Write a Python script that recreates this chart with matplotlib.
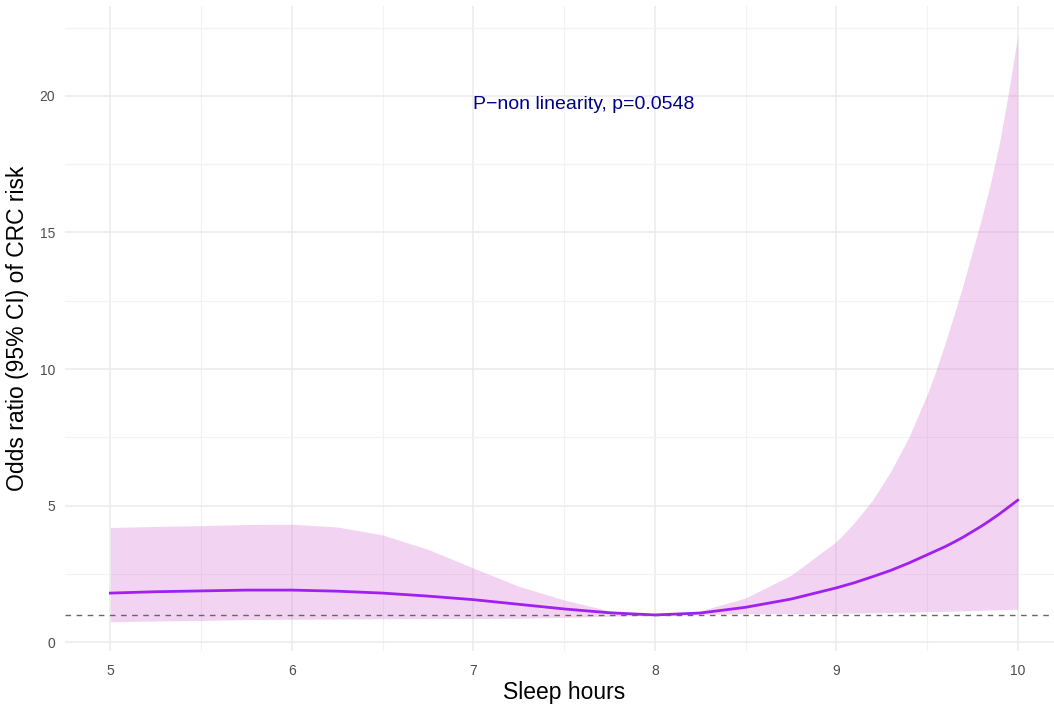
import numpy as np
import matplotlib.pyplot as plt

plt.rcParams["font.family"] = ["Liberation Sans", "DejaVu Sans"]

# values
sleep_hours = [5, 5.25, 5.5, 5.75, 6, 6.25, 6.5, 6.75, 7, 7.25, 7.5, 7.75, 8,
               8.25, 8.5, 8.75, 9, 9.1, 9.2, 9.3, 9.4, 9.5, 9.55, 9.6, 9.65, 9.7,
               9.75, 9.8, 9.85, 9.9, 9.95, 10]
odds_ratio = [1.80, 1.85, 1.88, 1.91, 1.91, 1.87, 1.80, 1.69, 1.56, 1.39, 1.22, 1.08, 1.00,
              1.07, 1.28, 1.58, 1.99, 2.18, 2.40, 2.63, 2.90, 3.20, 3.35, 3.50, 3.67, 3.85,
              4.05, 4.25, 4.47, 4.70, 4.95, 5.20]
ci_upper = [4.20, 4.24, 4.27, 4.31, 4.32, 4.22, 3.93, 3.40, 2.72, 2.05, 1.55, 1.15, 1.00,
            1.15, 1.62, 2.45, 3.68, 4.38, 5.20, 6.25, 7.50, 9.05, 9.95, 10.95, 12.0, 13.1,
            14.3, 15.5, 16.8, 18.3, 20.15, 22.2]
ci_lower = [0.75, 0.78, 0.80, 0.83, 0.84, 0.85, 0.86, 0.87, 0.87, 0.88, 0.91, 0.95, 1.00,
            1.02, 1.04, 1.05, 1.06, 1.07, 1.08, 1.09, 1.10, 1.12, 1.125, 1.13, 1.14, 1.15,
            1.16, 1.17, 1.18, 1.19, 1.20, 1.21]
x_ticks = [5, 6, 7, 8, 9, 10]
y_ticks = [0, 5, 10, 15, 20]
annotation = "P\u2212non linearity, p=0.0548"

fig = plt.figure(figsize=(10.54, 7.06), dpi=100)
ax = fig.add_axes([0.0617, 0.0775, 0.9469, 0.914])

ax.fill_between(sleep_hours, ci_lower, ci_upper, color="orchid", alpha=0.3, linewidth=0, zorder=2)
ax.plot(sleep_hours, odds_ratio, color="#a020f0", linewidth=2.0, zorder=3)
ax.axhline(1, color="#666666", linestyle=(0, (4, 4)), linewidth=1.0, zorder=4)
ax.text(7, 19.7, annotation, color="#00008b", fontsize=14, ha="left", va="center")

ax.set_xlim(4.75, 10.25)
ax.set_ylim(-0.33, 23.29)
ax.set_xticks(x_ticks)
ax.set_yticks(y_ticks)
ax.set_xticks(np.arange(5.5, 10, 1), minor=True)
ax.set_yticks(np.arange(2.5, 23, 5), minor=True)
ax.grid(which="major", color="#ebebeb", linewidth=1.1, zorder=0)
ax.grid(which="minor", color="#f2f2f2", linewidth=0.8, zorder=0)
ax.set_axisbelow(True)
for s in ax.spines.values():
    s.set_visible(False)
ax.tick_params(which="both", length=0, labelsize=10, labelcolor="#4d4d4d")
ax.tick_params(axis="x", pad=9)
ax.tick_params(axis="y", pad=7)

ax.set_xlabel("Sleep hours", fontsize=16.5, labelpad=2)
ax.set_ylabel("Odds ratio (95% CI) of CRC risk", fontsize=16.5, labelpad=8)

fig.savefig("out.png", dpi=100)
